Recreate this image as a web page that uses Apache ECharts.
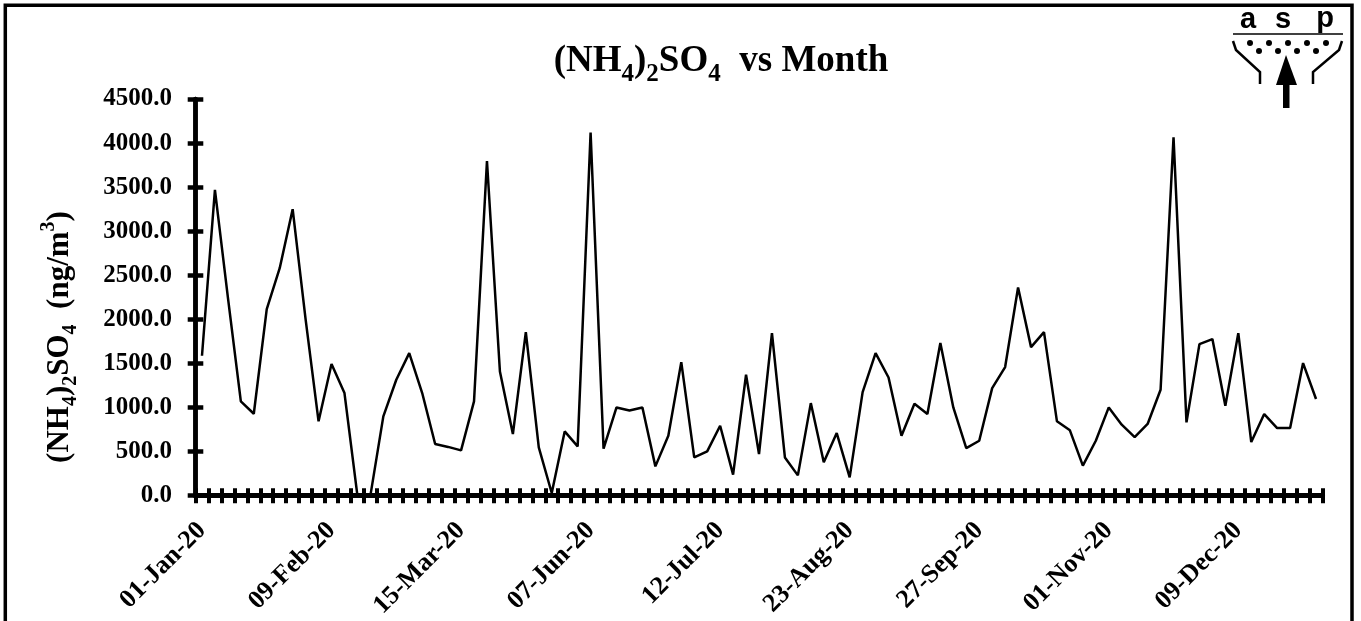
<!DOCTYPE html>
<html>
<head>
<meta charset="utf-8">
<script src="https://cdn.jsdelivr.net/npm/echarts@6/dist/echarts.min.js"></script>
<style>
html,body{margin:0;padding:0;background:#fff;}
#c{width:1361px;height:621px;}
</style>
</head>
<body>
<div id="c"></div>
<script>
// ---- data ----
const tickLabels = ['01-Jan-20','09-Feb-20','15-Mar-20','07-Jun-20','12-Jul-20','23-Aug-20','27-Sep-20','01-Nov-20','09-Dec-20'];
const values = [
  1587, 3469, 2250, 1069, 929, 2116, 2581, 3250, 2000, 843,
  1493, 1164, 0, 0, 899, 1315, 1617, 1164, 586, 553,
  514, 1069, 3797, 1409, 699, 1855, 548, 30, 729, 559,
  4118, 533, 1001, 967, 1001, 332, 680, 1515, 434, 502,
  793, 238, 1372, 472, 1844, 434, 230, 1050, 378, 710,
  208, 1175, 1617, 1340, 680, 1043, 926, 1731, 1001, 540,
  623, 1220, 1459, 2361, 1685, 1855, 843, 741, 340, 623,
  1001, 805, 665, 813, 1202, 4066, 831, 1719, 1776, 1020,
  1844, 608, 926, 767, 767, 1504, 1096
];
const yMin = 0, yMax = 4500, yStep = 500;
// categories: labelled samples every 10th, others are unlabelled samples
const categories = values.map((v, i) => (i % 10 === 0 ? tickLabels[i / 10] : 'sample ' + (i + 1)));

const SERIF = '"Liberation Serif", "Times New Roman", serif';
const SANS = '"Liberation Sans", Arial, sans-serif';

const chart = echarts.init(document.getElementById('c'), null, {renderer: 'canvas'});

const baseX = {
  type: 'category',
  data: categories,
  position: 'bottom',
  boundaryGap: true,
  axisLine: {show: true, onZero: false, lineStyle: {color: '#000', width: 5}},
  splitLine: {show: false}
};
const baseY = {
  type: 'value',
  min: yMin, max: yMax, interval: yStep,
  position: 'left',
  splitLine: {show: false},
  axisLine: {show: true, onZero: false, lineStyle: {color: '#000', width: 4.5}}
};

chart.setOption({
  backgroundColor: '#fff',
  animation: false,
  grid: {left: 195.5, top: 99, width: 1127, height: 397, containLabel: false},
  xAxis: [
    Object.assign({}, baseX, {
      axisTick: {show: true, inside: true, interval: 0, length: 7.5, lineStyle: {color: '#000', width: 4}},
      axisLabel: {
        show: true, interval: 9, rotate: 45, margin: 31,
        verticalAlign: 'middle',
        color: '#000', fontFamily: SERIF, fontWeight: 'bold', fontSize: 26
      }
    }),
    Object.assign({}, baseX, {
      axisTick: {show: true, inside: false, interval: 0, length: 7.5, lineStyle: {color: '#000', width: 4}},
      axisLabel: {show: false}
    })
  ],
  yAxis: [
    Object.assign({}, baseY, {
      axisTick: {show: true, inside: true, length: 7.8, lineStyle: {color: '#000', width: 4.5}},
      axisLabel: {
        show: true, margin: 23.5, color: '#000',
        fontFamily: SERIF, fontWeight: 'bold', fontSize: 25,
        formatter: v => v.toFixed(1)
      }
    }),
    Object.assign({}, baseY, {
      axisTick: {show: true, inside: false, length: 7.8, lineStyle: {color: '#000', width: 4.5}},
      axisLabel: {show: false}
    })
  ],
  series: [{
    type: 'line',
    data: values,
    xAxisIndex: 0, yAxisIndex: 0,
    showSymbol: false,
    symbol: 'none',
    lineStyle: {color: '#000', width: 2.5},
    z: 5
  }],
  graphic: [
    // outer frame
    {type: 'rect', shape: {x: 5.3, y: 5.3, width: 1346.7, height: 700},
     style: {fill: 'none', stroke: '#000', lineWidth: 3.5}, silent: true},
    // chart title
    {type: 'text', x: 721, y: 36, silent: true,
     style: {
       text: '{m|(NH}{s|4}{m|)}{s|2}{m|SO}{s|4}{m|  vs Month}',
       align: 'center', verticalAlign: 'top', fill: '#000',
       rich: {
         m: {fontFamily: SERIF, fontWeight: 'bold', fontSize: 37, lineHeight: 51, fill: '#000'},
         s: {fontFamily: SERIF, fontWeight: 'bold', fontSize: 25, lineHeight: 25, verticalAlign: 'bottom', fill: '#000'}
       }
     }},
    // y-axis title
    {type: 'text', x: 59.5, y: 337, rotation: Math.PI / 2, silent: true,
     style: {
       text: '{m|(NH}{s|4}{m|)}{s|2}{m|SO}{s|4}{m|  (ng/m}{p|3}{m|)}',
       align: 'center', verticalAlign: 'middle', fill: '#000',
       rich: {
         m: {fontFamily: SERIF, fontWeight: 'bold', fontSize: 31, lineHeight: 42, fill: '#000'},
         s: {fontFamily: SERIF, fontWeight: 'bold', fontSize: 20, lineHeight: 20, verticalAlign: 'bottom', fill: '#000'},
         p: {fontFamily: SERIF, fontWeight: 'bold', fontSize: 20, lineHeight: 32, verticalAlign: 'top', fill: '#000'}
       }
     }},
    // asp logo
    {type: 'group', silent: true, children: [
      {type: 'text', x: 1248, y: 20, style: {text: 'a', align: 'center', verticalAlign: 'middle', fill: '#000', font: 'bold 29px ' + SANS}},
      {type: 'text', x: 1283, y: 20, style: {text: 's', align: 'center', verticalAlign: 'middle', fill: '#000', font: 'bold 29px ' + SANS}},
      {type: 'text', x: 1325, y: 19, style: {text: 'p', align: 'center', verticalAlign: 'middle', fill: '#000', font: 'bold 29px ' + SANS}},
      {type: 'line', shape: {x1: 1233, y1: 34, x2: 1343, y2: 34}, style: {stroke: '#000', lineWidth: 1.5}},
      {type: 'polyline', shape: {points: [[1233, 41], [1236, 50], [1260, 72], [1260, 84]]}, style: {stroke: '#000', lineWidth: 2.5, fill: 'none'}},
      {type: 'polyline', shape: {points: [[1342, 41], [1339, 50], [1313, 72], [1313, 84]]}, style: {stroke: '#000', lineWidth: 2.5, fill: 'none'}},
      {type: 'circle', shape: {cx: 1250, cy: 43, r: 3}, style: {fill: '#000'}},
      {type: 'circle', shape: {cx: 1269, cy: 43, r: 3}, style: {fill: '#000'}},
      {type: 'circle', shape: {cx: 1288, cy: 43, r: 3}, style: {fill: '#000'}},
      {type: 'circle', shape: {cx: 1307, cy: 43, r: 3}, style: {fill: '#000'}},
      {type: 'circle', shape: {cx: 1326, cy: 43, r: 3}, style: {fill: '#000'}},
      {type: 'circle', shape: {cx: 1259, cy: 51, r: 3}, style: {fill: '#000'}},
      {type: 'circle', shape: {cx: 1278, cy: 51, r: 3}, style: {fill: '#000'}},
      {type: 'circle', shape: {cx: 1297, cy: 51, r: 3}, style: {fill: '#000'}},
      {type: 'circle', shape: {cx: 1316, cy: 51, r: 3}, style: {fill: '#000'}},
      {type: 'polygon', shape: {points: [[1286, 55], [1276, 85], [1297, 85]]}, style: {fill: '#000'}},
      {type: 'rect', shape: {x: 1283, y: 84, width: 6.5, height: 24}, style: {fill: '#000'}}
    ]}
  ]
});
</script>
</body>
</html>
